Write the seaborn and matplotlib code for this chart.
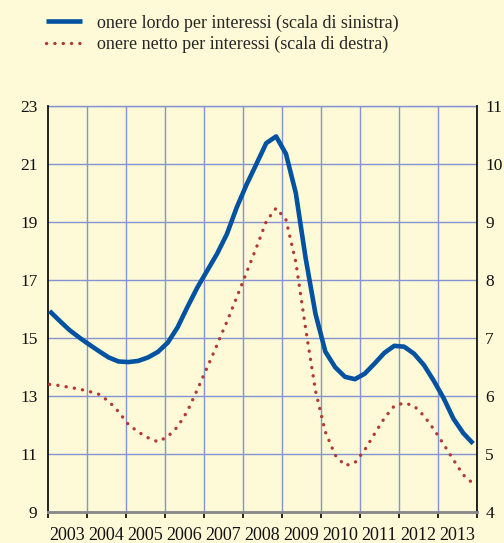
import numpy as np
import pandas as pd
import matplotlib
matplotlib.use("Agg")
import matplotlib.pyplot as plt
from matplotlib.lines import Line2D
import seaborn as sns

# Quarterly series, 2003 Q1 - 2013 Q4
years = list(range(2003, 2014))
gross_interest = [15.93, 15.60, 15.28, 15.02, 14.78, 14.55, 14.33, 14.19, 14.17, 14.21,
                  14.33, 14.52, 14.84, 15.37, 16.07, 16.74, 17.32, 17.90, 18.58, 19.50,
                  20.29, 21.00, 21.72, 21.95, 21.35, 20.00, 17.75, 15.83, 14.53, 13.99,
                  13.66, 13.58, 13.77, 14.12, 14.49, 14.73, 14.70, 14.46, 14.07, 13.53,
                  12.93, 12.22, 11.72, 11.36]
net_interest = [6.20, 6.18, 6.15, 6.12, 6.08, 6.03, 5.91, 5.73, 5.51, 5.38,
                5.28, 5.21, 5.30, 5.47, 5.74, 6.11, 6.49, 6.88, 7.28, 7.70,
                8.13, 8.56, 9.01, 9.24, 9.04, 8.31, 7.16, 6.09, 5.38, 4.98,
                4.80, 4.85, 5.07, 5.35, 5.62, 5.83, 5.88, 5.83, 5.66, 5.43,
                5.17, 4.90, 4.64, 4.49]
left_ticks = [9, 11, 13, 15, 17, 19, 21, 23]
right_ticks = [4, 5, 6, 7, 8, 9, 10, 11]
label_gross = "onere lordo per interessi (scala di sinistra)"
label_net = "onere netto per interessi (scala di destra)"

n = len(gross_interest)
t = 2003.04 + np.arange(n) * (10.86 / (n - 1))
df = pd.DataFrame({"t": t, "gross": gross_interest, "net": net_interest})

BG = "#FEF9D6"
GRID = "#8494D2"
BLUE = "#0152A0"
RED = "#B23A36"
DOTS = (0.05, 2.45)

sns.set_theme(style="white")
plt.rcParams["font.family"] = ["Liberation Serif", "DejaVu Serif"]

fig = plt.figure(figsize=(5.04, 5.43), dpi=100, facecolor=BG)
ax = fig.add_axes([48 / 504, 1 - 512 / 543, 429 / 504, 406 / 543])
ax.set_facecolor(BG)
ax2 = ax.twinx()

# gridlines
for yv in left_ticks[1:]:
    ax.axhline(yv, color=GRID, lw=1.0, zorder=1)
for xv in range(2004, 2014):
    ax.axvline(xv, color=GRID, lw=1.0, zorder=1)

sns.lineplot(data=df, x="t", y="gross", ax=ax, color=BLUE, lw=3.3,
             solid_capstyle="butt", zorder=3, legend=False)
sns.lineplot(data=df, x="t", y="net", ax=ax2, color=RED, lw=2.4,
             zorder=3, legend=False)
for ln in ax2.get_lines():
    ln.set_dashes(DOTS)
    ln.set_dash_capstyle("round")

ax.set_xlim(2003, 2014)
ax.set_ylim(9, 23)
ax2.set_ylim(4, 11)
ax.set_xlabel("")
ax.set_ylabel("")
ax2.set_ylabel("")

ax.set_yticks(left_ticks)
ax.set_yticklabels([str(v) for v in left_ticks])
ax2.set_yticks(right_ticks)
ax2.set_yticklabels([str(v) for v in right_ticks])

ax.set_xticks(range(2003, 2015))
ax.set_xticklabels([])
ax.set_xticks([y + 0.5 for y in years], minor=True)
ax.set_xticklabels([str(y) for y in years], minor=True)

ax.tick_params(axis="x", which="major", direction="out", length=4, width=1.2,
               color="black", bottom=True)
ax.tick_params(axis="x", which="minor", length=0, labelsize=13, pad=11,
               labelcolor="#111111")
ax.tick_params(axis="y", length=0, labelsize=12.5, pad=7.5, labelcolor="#111111")
ax2.tick_params(axis="y", length=0, labelsize=12.5, pad=6, labelcolor="#111111")

for a in (ax, ax2):
    a.spines["top"].set_visible(False)
    a.spines["left"].set_color("#111111")
    a.spines["left"].set_linewidth(1.3)
    a.spines["right"].set_color("#111111")
    a.spines["right"].set_linewidth(1.3)
    a.spines["bottom"].set_color("#8a8a8a")
    a.spines["bottom"].set_linewidth(1.8)
ax2.spines["left"].set_visible(False)
ax.spines["right"].set_visible(False)
ax.axhline(23, color=GRID, lw=1.0, zorder=1, clip_on=False)

handles = [
    Line2D([], [], color=BLUE, lw=3.3, solid_capstyle="butt"),
    Line2D([], [], color=RED, lw=2.4, dashes=DOTS, dash_capstyle="round"),
]
fig.legend(handles, [label_gross, label_net], loc="upper left",
           bbox_to_anchor=(0.066, 0.997), frameon=False, fontsize=13,
           handlelength=2.0, handletextpad=0.85, labelspacing=0.25,
           borderaxespad=0.3)

fig.savefig("out.png", dpi=100, facecolor=BG)
